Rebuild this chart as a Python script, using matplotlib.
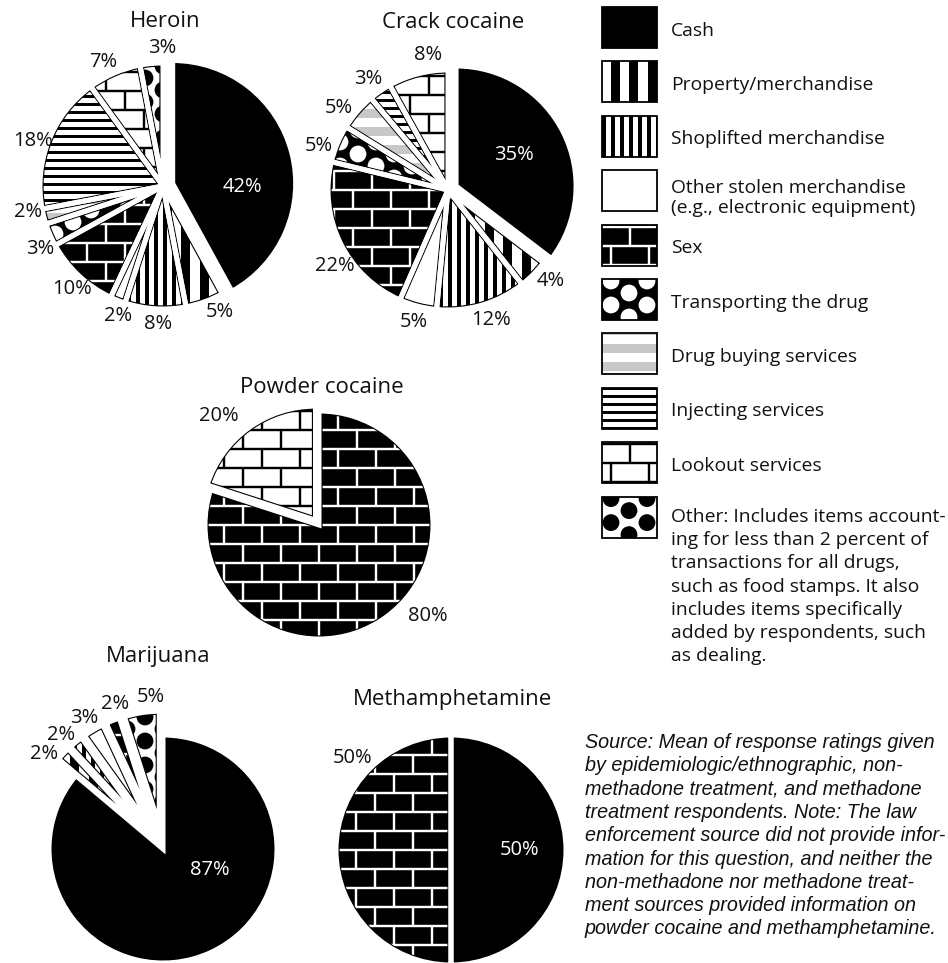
import matplotlib
matplotlib.use("Agg")
import numpy as np
import matplotlib.pyplot as plt
from matplotlib.patches import Wedge, Rectangle, Circle
from matplotlib.collections import PatchCollection, LineCollection

# ---------------------------------------------------------------- data
legend_keys = ["cash", "property", "shoplifted", "stolen", "sex",
               "transport", "buying", "injecting", "lookout", "other"]
legend_labels = [
    ["Cash"],
    ["Property/merchandise"],
    ["Shoplifted merchandise"],
    ["Other stolen merchandise", "(e.g., electronic equipment)"],
    ["Sex"],
    ["Transporting the drug"],
    ["Drug buying services"],
    ["Injecting services"],
    ["Lookout services"],
    ["Other: Includes items account-",
     "ing for less than 2 percent of",
     "transactions for all drugs,",
     "such as food stamps. It also",
     "includes items specifically",
     "added by respondents, such",
     "as dealing."],
]

heroin_keys = ["cash", "property", "shoplifted", "stolen", "sex",
               "transport", "buying", "injecting", "lookout", "other"]
heroin_pct = [42, 5, 8, 2, 10, 3, 2, 18, 7, 3]

crack_keys = ["cash", "property", "shoplifted", "stolen", "sex",
              "transport", "buying", "injecting", "lookout"]
crack_pct = [35, 4, 12, 5, 22, 5, 5, 3, 8]

powder_keys = ["sex", "lookout"]
powder_pct = [80, 20]

marijuana_keys = ["cash", "property", "shoplifted", "stolen", "sex", "other"]
marijuana_pct = [87, 2, 2, 3, 2, 5]

meth_keys = ["cash", "sex"]
meth_pct = [50, 50]

source_lines = [
    "Source: Mean of response ratings given",
    "by epidemiologic/ethnographic, non-",
    "methadone treatment, and methadone",
    "treatment respondents. Note: The law",
    "enforcement source did not provide infor-",
    "mation for this question, and neither the",
    "non-methadone nor methadone treat-",
    "ment sources provided information on",
    "powder cocaine and methamphetamine.",
]

# ---------------------------------------------------------------- layout
W, H = 948, 963
PX = 72.0 / 100.0          # points per pixel
HALF_GAP = 2.0             # white separation on each side of a slice edge (px)
EDGE = 1.6                 # black outline width (px)
INK = "#111111"
GRAY = "#c8c8c8"

plt.rcParams["font.family"] = ["Open Sans", "DejaVu Sans"]

BG = {"cash": "black", "property": "white", "shoplifted": "white",
      "stolen": "white", "sex": "black", "transport": "black",
      "buying": "white", "injecting": "white", "lookout": "white",
      "other": "white"}

pies = [
    dict(keys=heroin_keys, pct=heroin_pct, title="Heroin",
         center=(163, 186), r=121, title_xy=(165, 27),
         explode=[10, 0, 0, 0, 0, 0, 0, 0, 0, 0],
         dist=1.14, inside=0.58,
         nudge=[-17, 4.6, 1.6, 2.6, 1.7, 4, -3.4, 2.6, 2.2, -5]),
    dict(keys=crack_keys, pct=crack_pct, title="Crack cocaine",
         center=(448, 190), r=118, title_xy=(453, 28),
         explode=[9, 0, 0, 0, 0, 0, 0, 0, 0],
         dist=1.16, inside=0.56,
         nudge=[2, 3, 2, 0, 7.6, 4, 4, 1, -6]),
    dict(keys=powder_keys, pct=powder_pct, title="Powder cocaine",
         center=(319, 525), r=112, title_xy=(322, 393),
         explode=[0, 6],
         dist=1.27, inside=0.62,
         nudge=[14, 7]),
    dict(keys=marijuana_keys, pct=marijuana_pct, title="Marijuana",
         center=(163, 849), r=112, title_xy=(158, 662),
         explode=[0, 24, 24, 24, 24, 24],
         dist=1.15, inside=0.46,
         nudge=[41, 6, 3, 1, -3.5, -5]),
    dict(keys=meth_keys, pct=meth_pct, title="Methamphetamine",
         center=(451, 850), r=113, title_xy=(453, 705),
         explode=[0, 0],
         dist=1.19, inside=0.61,
         nudge=[0, -43]),
]

LEG_X, LEG_W, LEG_H = 602, 55, 41
LEG_TOP0, LEG_STEP = 7, 54.4
LEG_TEXT_X = 671
LEG_FS = 13.9


def Y(y):
    return H - y


# ---------------------------------------------------------------- patterns
def brick_segments(x0, y0, x1, y1, ax0, ay0, w=38.0, h=19.0):
    segs = []
    k0 = int(np.floor((y0 - ay0) / h)) - 1
    k1 = int(np.ceil((y1 - ay0) / h)) + 1
    for k in range(k0, k1 + 1):
        y = ay0 + k * h
        segs.append([(x0, y), (x1, y)])
        off = (k % 2) * w / 2
        j0 = int(np.floor((x0 - ax0 - off) / w)) - 1
        j1 = int(np.ceil((x1 - ax0 - off) / w)) + 1
        for j in range(j0, j1 + 1):
            x = ax0 + off + j * w
            segs.append([(x, y), (x, y + h)])
    return segs


def dot_lattice(x0, y0, x1, y1, ax0, ay0, dx=36.0, dy=12.0, r=8.4):
    circles = []
    k0 = int(np.floor((y0 - ay0) / dy)) - 1
    k1 = int(np.ceil((y1 - ay0) / dy)) + 1
    for k in range(k0, k1 + 1):
        y = ay0 + k * dy
        off = (k % 2) * dx / 2
        j0 = int(np.floor((x0 - ax0 - off) / dx)) - 1
        j1 = int(np.ceil((x1 - ax0 - off) / dx)) + 1
        for j in range(j0, j1 + 1):
            circles.append(Circle((ax0 + off + j * dx, y), r))
    return circles


def v_stripes(x0, y0, x1, y1, ax0, period, width):
    k0 = int(np.floor((x0 - ax0) / period)) - 1
    k1 = int(np.ceil((x1 - ax0) / period)) + 1
    return [Rectangle((ax0 + k * period, y0), width, y1 - y0)
            for k in range(k0, k1 + 1)]


def h_bands(x0, y0, x1, y1, ay0, period, height):
    k0 = int(np.floor((y0 - ay0) / period)) - 1
    k1 = int(np.ceil((y1 - ay0) / period)) + 1
    return [Rectangle((x0, ay0 + k * period), x1 - x0, height)
            for k in range(k0, k1 + 1)]


def fill_pattern(ax, key, clip, bbox, anchor):
    x0, y0, x1, y1 = bbox
    ax0, ay0 = anchor
    arts = []
    if key == "property":
        arts.append(PatchCollection(v_stripes(x0, y0, x1, y1, ax0, 18.5, 9.0),
                                    facecolor="black", edgecolor="none"))
    elif key == "shoplifted":
        arts.append(PatchCollection(v_stripes(x0, y0, x1, y1, ax0, 9.0, 3.6),
                                    facecolor="black", edgecolor="none"))
    elif key == "sex":
        arts.append(LineCollection(brick_segments(x0, y0, x1, y1, ax0, ay0),
                                   colors="white", linewidths=2.4 * PX))
    elif key == "lookout":
        arts.append(LineCollection(brick_segments(x0, y0, x1, y1, ax0, ay0),
                                   colors="black", linewidths=2.4 * PX))
    elif key == "transport":
        arts.append(PatchCollection(dot_lattice(x0, y0, x1, y1, ax0, ay0),
                                    facecolor="white", edgecolor="none"))
    elif key == "other":
        arts.append(PatchCollection(dot_lattice(x0, y0, x1, y1, ax0, ay0),
                                    facecolor="black", edgecolor="none"))
    elif key == "buying":
        arts.append(PatchCollection(h_bands(x0, y0, x1, y1, ay0, 18.0, 9.0),
                                    facecolor=GRAY, edgecolor="none"))
    elif key == "injecting":
        arts.append(PatchCollection(h_bands(x0, y0, x1, y1, ay0, 8.0, 3.0),
                                    facecolor="black", edgecolor="none"))
    for a in arts:
        a.set_zorder(2)
        ax.add_collection(a)
        a.set_clip_path(clip)


def outline_wedge(ax, w):
    # black rim kept inside the slice, then a white band on the slice edge
    # that opens the gap between neighbouring slices
    rim = Wedge(w.center, w.r, w.theta1, w.theta2, fill=False,
                edgecolor="black", linewidth=2 * (HALF_GAP + EDGE) * PX,
                zorder=3)
    ax.add_patch(rim)
    rim.set_clip_path(w)
    gap = Wedge(w.center, w.r, w.theta1, w.theta2, fill=False,
                edgecolor="white", linewidth=(2 * HALF_GAP + 1.0) * PX,
                joinstyle="miter", zorder=4)
    ax.add_patch(gap)


# ---------------------------------------------------------------- figure
fig = plt.figure(figsize=(W / 100, H / 100), dpi=100)
ax = fig.add_axes([0, 0, 1, 1])

for p in pies:
    cx, cy = p["center"][0], Y(p["center"][1])
    R = p["r"] + HALF_GAP
    wedges, _ = ax.pie(p["pct"], radius=R, center=(cx, cy), startangle=90,
                       counterclock=False, explode=p["explode"],
                       colors=[BG[k] for k in p["keys"]],
                       wedgeprops=dict(linewidth=0))
    bbox = (cx - R - 40, cy - R - 40, cx + R + 40, cy + R + 40)
    for w, k, v, nd in zip(wedges, p["keys"], p["pct"], p["nudge"]):
        w.set_zorder(1)
        fill_pattern(ax, k, w, bbox, (cx, cy))
        outline_wedge(ax, w)
        ang = np.deg2rad(0.5 * (w.theta1 + w.theta2) + nd)
        inside = (k == "cash")
        d = p["r"] * (p["inside"] if inside else p["dist"])
        wx, wy = w.center
        ax.text(wx + d * np.cos(ang), wy + d * np.sin(ang), f"{v}%",
                ha="center", va="center", fontsize=14.5,
                color="white" if inside else INK, zorder=6)
    tx, ty = p["title_xy"]
    ax.text(tx, Y(ty), p["title"], ha="center", va="baseline",
            fontsize=16, color=INK, zorder=6)

# legend
for i, (k, lines) in enumerate(zip(legend_keys, legend_labels)):
    top = LEG_TOP0 + i * LEG_STEP
    rect = Rectangle((LEG_X, Y(top + LEG_H)), LEG_W, LEG_H,
                     facecolor=BG[k], edgecolor="none", zorder=1)
    ax.add_patch(rect)
    fill_pattern(ax, k, rect, (LEG_X - 5, Y(top + LEG_H) - 5,
                               LEG_X + LEG_W + 5, Y(top) + 5),
                 (LEG_X + 9, Y(top) - 2))
    ax.add_patch(Rectangle((LEG_X, Y(top + LEG_H)), LEG_W, LEG_H, fill=False,
                           edgecolor="black", linewidth=1.8 * PX, zorder=3))
    mid = top + LEG_H / 2
    if len(lines) == 1:
        baselines = [mid + 8]
    elif len(lines) == 2:
        baselines = [mid + 2, mid + 22]
    else:
        baselines = [mid + 4.5 + 23.3 * j for j in range(len(lines))]
    for s, b in zip(lines, baselines):
        ax.text(LEG_TEXT_X, Y(b), s, ha="left", va="baseline",
                fontsize=LEG_FS, color=INK, zorder=6)

# source note
for j, s in enumerate(source_lines):
    ax.text(585, Y(748 + 23.3 * j), s, ha="left", va="baseline",
            fontsize=14.2, color=INK, family="Liberation Sans",
            style="italic", zorder=6)

ax.set_xlim(0, W)
ax.set_ylim(0, H)
ax.set_aspect("auto")
ax.axis("off")
fig.savefig("out.png", dpi=100, facecolor="white")
